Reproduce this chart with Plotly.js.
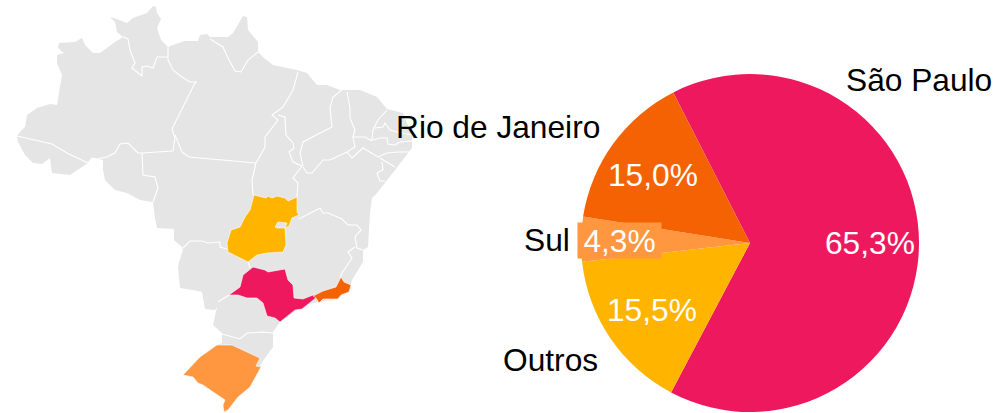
<!DOCTYPE html>
<html><head><meta charset="utf-8">
<script src="https://cdn.plot.ly/plotly-3.0.1.min.js"></script>
<style>html,body{margin:0;padding:0;background:#fff}#c{width:1001px;height:413px}</style>
</head><body><div id="c"></div>
<script>
const categories = ["São Paulo","Outros","Sul","Rio de Janeiro"];
const shares = [65.3,15.5,4.3,15.0];
const colors = ["#EE185E","#FFB400","#FF9640","#F56204"];
const percentLabels = ["65,3%","15,5%","4,3%","15,0%"];
const landColor = "#E5E5E5";

// map outlines, in map units
const brazil = [[17,136],[20,132],[25,127],[27,115],[37,108],[50,104],[57,105],[59,93],[62,75],[57,63],[57,55],[64,53],[58,48],[59,43],[75,42],[82,38],[85,45],[93,53],[100,53],[115,42],[123,37],[117,32],[115,22],[110,17],[117,19],[127,23],[133,18],[147,13],[153,6],[156,7],[157,13],[161,19],[157,28],[161,40],[168,47],[173,45],[185,41],[198,41],[200,35],[207,34],[210,37],[228,37],[233,33],[243,16],[247,17],[248,30],[258,42],[258,52],[264,58],[273,65],[297,70],[307,73],[317,85],[327,85],[340,90],[360,90],[377,97],[387,109],[403,113],[412,135],[412,148],[395,170],[385,183],[377,193],[372,198],[370,213],[368,247],[363,250],[363,262],[352,280],[350,288],[332,300],[318,302],[305,305],[297,310],[280,322],[273,332],[273,347],[260,365],[261,367],[250,387],[238,397],[228,410],[224,412],[223,405],[225,400],[203,385],[198,383],[193,377],[183,375],[200,357],[217,345],[222,343],[222,333],[213,325],[217,307],[215,310],[205,309],[202,292],[193,290],[180,288],[178,268],[179,262],[183,250],[182,247],[174,240],[174,229],[157,228],[155,218],[153,202],[140,200],[127,193],[115,190],[105,180],[103,170],[103,160],[92,158],[88,163],[82,167],[70,175],[52,173],[50,158],[42,164],[33,163],[25,155],[18,142]];
const federalDistrict = [[275,227],[278,222],[287,223],[285,228],[277,228]];
const goias = [[254,195],[266,198],[268,196],[272,198],[277,196],[285,198],[288,201],[297,197],[297,212],[299,215],[292,218],[289,226],[285,228],[286,245],[283,252],[267,253],[257,255],[248,262],[240,258],[228,252],[227,243],[231,230],[240,227],[245,217],[250,210],[252,202]];
const saoPaulo = [[229,295],[240,287],[243,275],[253,267],[265,270],[268,272],[285,269],[288,280],[293,285],[294,298],[303,299],[313,295],[317,297],[307,305],[302,309],[295,310],[280,322],[275,318],[267,316],[263,303],[257,298],[247,298],[238,295]];
const rioDeJaneiro = [[313,296],[323,291],[336,287],[341,277],[344,282],[351,285],[349,292],[341,295],[338,299],[323,299],[319,303],[316,298]];
const rioGrandeDoSul = [[183,375],[200,357],[217,345],[232,345],[247,352],[260,358],[256,366],[261,367],[250,387],[238,397],[228,410],[224,412],[223,405],[225,400],[203,385],[198,383],[193,377]];
const borders = [
 [[17,136],[45,143],[52,144],[67,153],[88,163]],
 [[88,163],[92,158],[97,159],[107,157],[115,153],[120,144],[128,143],[138,153],[142,153],[173,151]],
 [[142,153],[143,175],[155,177],[158,188],[153,202]],
 [[173,151],[175,138],[172,129],[195,83],[197,82],[190,82],[182,77],[173,70],[168,60],[168,47]],
 [[175,135],[182,152],[189,157],[256,163]],
 [[123,37],[128,39],[130,50],[135,63],[132,68],[142,76],[142,67],[147,66],[153,68],[157,57],[168,57]],
 [[210,39],[223,47],[228,58],[235,71],[241,72],[248,60],[258,52]],
 [[256,163],[265,147],[265,137],[272,128],[278,120],[272,115],[283,107],[293,90],[298,72]],
 [[256,163],[252,180],[253,195]],
 [[278,115],[285,117],[286,135],[293,143],[294,148],[289,152],[293,162],[302,166]],
 [[302,166],[293,178],[298,183],[297,197]],
 [[342,90],[333,97],[330,108],[332,127],[322,132],[303,142],[300,153],[303,166]],
 [[303,167],[307,173],[312,173],[323,160],[330,160],[347,152],[355,147],[353,137]],
 [[347,92],[350,108],[350,118],[355,130],[353,137],[358,137],[365,137],[372,141]],
 [[387,110],[378,120],[373,130],[372,140]],
 [[375,128],[383,127],[385,123],[390,130],[397,132],[412,135]],
 [[372,140],[380,138],[387,138],[388,144],[395,145],[400,142],[412,141]],
 [[347,152],[352,158],[363,148],[378,157],[387,153],[398,152],[410,152]],
 [[380,158],[395,167]],
 [[382,162],[383,170],[377,173],[380,181],[385,181]],
 [[299,219],[313,212],[320,208],[323,213],[328,213],[342,219],[348,225],[357,225],[361,230],[355,237],[357,248],[363,250]],
 [[355,247],[348,252],[352,258],[342,273],[340,278]],
 [[248,262],[250,268]],
 [[183,248],[190,241],[202,241],[208,243],[220,242],[220,247],[227,249]],
 [[222,334],[240,339],[247,333],[263,332],[273,333]],
 [[218,302],[229,295]]
];
const fills = [[goias,colors[1]],[saoPaulo,colors[0]],[rioDeJaneiro,colors[3]],[rioGrandeDoSul,colors[2]]];

const xs = p => p.map(q=>q[0]), ys = p => p.map(q=>q[1]);
const poly = (p,c,lw) => ({type:"scatter",mode:"lines",x:xs(p).concat(p[0][0]),y:ys(p).concat(p[0][1]),fill:"toself",fillcolor:c,line:{color:"#fff",width:lw},hoverinfo:"skip",showlegend:false});
const traces = [poly(brazil,landColor,0)];
borders.forEach(b=>traces.push({type:"scatter",mode:"lines",x:xs(b),y:ys(b),line:{color:"#fff",width:1.1},hoverinfo:"skip",showlegend:false}));
fills.forEach(f=>traces.push(poly(f[0],f[1],0.6)));
traces.push(poly(federalDistrict,landColor,0.6));
traces.push({type:"pie",labels:categories,values:shares,sort:false,direction:"clockwise",rotation:-27,
  marker:{colors:colors,line:{width:0}},textinfo:"none",hoverinfo:"label+percent",showlegend:false,
  domain:{x:[581/1001,919/1001],y:[1/413,339/413]}});

const labelPos = [[919,80],[550,360],[547,240],[498,127]];
const pctPos = [[870,243],[652,310],[619.5,240.5],[653,175]];
const font = "'Liberation Sans',Arial,sans-serif";
const annotations = [];
categories.forEach((c,i)=>annotations.push({x:labelPos[i][0],y:labelPos[i][1],xref:"x",yref:"y",text:c,showarrow:false,font:{family:font,size:31.7,color:"#000"}}));
percentLabels.forEach((t,i)=>annotations.push(Object.assign({x:pctPos[i][0],y:pctPos[i][1],xref:"x",yref:"y",text:t,showarrow:false,font:{family:font,size:31.7,color:"#fff"}},
  i===2?{bgcolor:colors[2],borderpad:0,width:83,height:35}:{})));

Plotly.newPlot("c",traces,{
  width:1001,height:413,margin:{l:0,r:0,t:0,b:0},paper_bgcolor:"#fff",plot_bgcolor:"rgba(0,0,0,0)",showlegend:false,
  xaxis:{range:[0,1001],visible:false,fixedrange:true},
  yaxis:{range:[413,0],visible:false,fixedrange:true},
  annotations:annotations
},{displayModeBar:false,staticPlot:true});
</script></body></html>
